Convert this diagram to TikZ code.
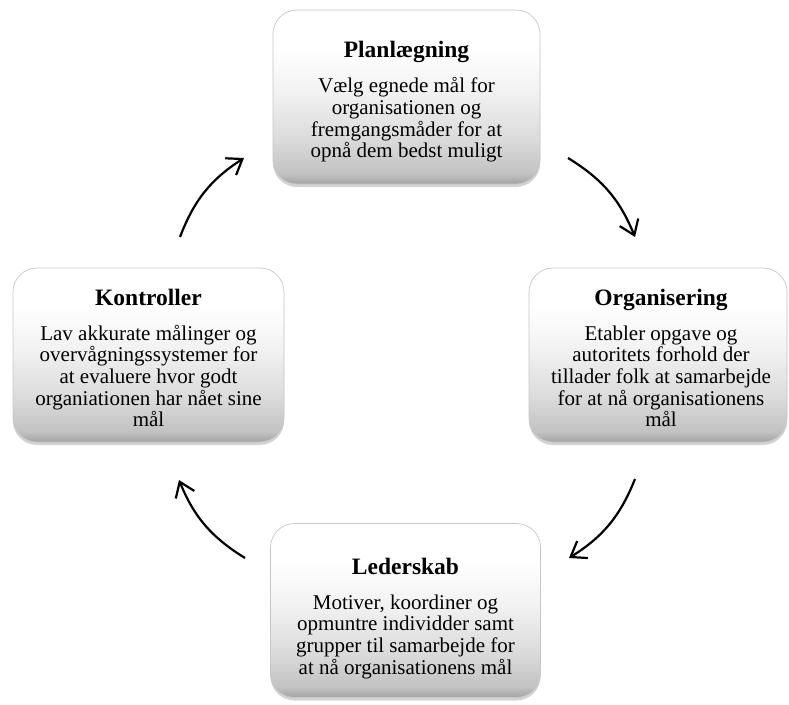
\documentclass[tikz,border=0pt]{standalone}
\usepackage{fontspec}
\setmainfont{Liberation Serif}
\usetikzlibrary{arrows.meta,shadows}
\pgfdeclareverticalshading{boxshade}{100bp}{color(0bp)=(black!36); color(25bp)=(black!36); color(28bp)=(black!24); color(38bp)=(black!14); color(52bp)=(black!5); color(64bp)=(white); color(100bp)=(white)}
\tikzset{
  card/.style={rectangle, rounded corners=24pt, minimum width=#1, minimum height=174pt,
    shading=boxshade, draw=black!22, line width=0.7pt,
    drop shadow={opacity=0.35, shadow xshift=0pt, shadow yshift=-3pt}},
  card/.default=268pt,
  cardtext/.style={align=center, inner sep=0pt, font=\fontsize{21}{21.7}\selectfont},
  cyc/.style={line width=2.2pt, -{Straight Barb[length=14pt,width=20pt,line width=2.2pt]}, bend left=18},
}
\newcommand{\ttl}[1]{{\fontsize{23.5}{21.7}\selectfont\bfseries #1}\\[13pt]}
\begin{document}
\begin{tikzpicture}[x=1pt,y=-1pt]
\useasboundingbox (0,0) rectangle (789,704);
\node[card=267pt] (P) at (406.5,97) {};
\node[card=258pt] (O) at (658,355) {};
\node[card=270pt] (B) at (405.5,610.5) {};
\node[card=271pt] (L) at (148.5,355) {};
\node[cardtext] (Pt) at ([yshift=-5pt]P.center) {\ttl{Planlægning}Vælg egnede mål for\\organisationen og\\fremgangsmåder for at\\opnå dem bedst muligt};
\node[cardtext] (Ot) at ([yshift=-3pt,xshift=3pt]O.center) {\ttl{Organisering}Etabler opgave og\\autoritets forhold der\\tillader folk at samarbejde\\for at nå organisationens\\mål};
\node[cardtext] (Bt) at ([yshift=-8pt]B.center) {\ttl{Lederskab}Motiver, koordiner og\\opmuntre individder samt\\grupper til samarbejde for\\at nå organisationens mål};
\node[cardtext] (Lt) at ([yshift=-3pt]L.center) {\ttl{Kontroller}Lav akkurate målinger og\\overvågningssystemer for\\at evaluere hvor godt\\organiationen har nået sine\\mål};
\coordinate (a1s) at (568,158); \coordinate (a1e) at (635,237);
\coordinate (a2s) at (635,479); \coordinate (a2e) at (569,558);
\coordinate (a3s) at (245,558); \coordinate (a3e) at (179,480);
\coordinate (a4s) at (180,237); \coordinate (a4e) at (244,158);
\draw[cyc] (a1s) to (a1e);
\draw[cyc] (a2s) to (a2e);
\draw[cyc] (a3s) to (a3e);
\draw[cyc] (a4s) to (a4e);
\end{tikzpicture}
\end{document}
